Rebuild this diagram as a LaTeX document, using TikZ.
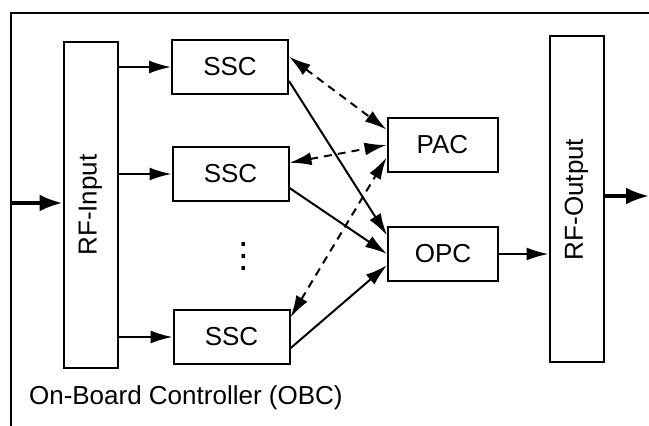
\documentclass[tikz,border=0pt]{standalone}
\usepackage{fontspec}
\setmainfont{Liberation Sans}
\usetikzlibrary{arrows.meta,calc}

\begin{document}
\begin{tikzpicture}
[x=0.5pt,y=-0.5pt,
  font=\fontsize{13}{15}\selectfont,
  boxDecorate/.style={draw,line width=1pt,minimum width=58pt,minimum height=27pt,inner sep=0pt},
  ctrlDecorate/.style={boxDecorate,minimum width=55pt},
  tallDecorate/.style={draw,line width=1pt,minimum width=27pt,minimum height=163pt,inner sep=0pt},
  lineDecorate/.style={-{Latex[length=11pt,width=6.5pt]},line width=1pt},
  dashDecorate/.style={{Latex[length=11pt,width=6.5pt]}-{Latex[length=11pt,width=6.5pt]},line width=1pt,dash pattern=on 4pt off 3pt},
  ioDecorate/.style={-{Latex[length=11.5pt,width=8.5pt]},line width=1.8pt}]
\useasboundingbox (0,0) rectangle (649,426);
%% frame of the controller
\draw[line width=0.8pt] (11,426) -- (11,13) -- (649,13);
\node[anchor=base west] (obc) at (22,405) {On-Board Controller (OBC)};
%% nodes
\node (rfin) at (90.5,205) [tallDecorate] {\rotatebox{90}{RF-Input}};
\node (rfout) at (576.5,199.5) [tallDecorate] {\rotatebox{90}{RF-Output}};
\foreach \nodename/\x/\y in {ssc1/230/67, ssc2/230.5/174, ssc3/231.5/337}
{
  \node (\nodename) at (\x,\y) [boxDecorate] {SSC};
}
\node (pac) at (442.5,145) [ctrlDecorate] {PAC};
\node (opc) at (443,254) [ctrlDecorate] {OPC};
\node (dots) at (244,256) [align=center,inner sep=0pt,font=\fontsize{19}{6}\selectfont] {.\\.\\.};
\coordinate (in) at (11,203);
\coordinate (out) at (649,196);
%% edges or lines
\draw[ioDecorate] (in) -- (rfin.west |- in);
\draw[ioDecorate] (rfout.east |- out) -- (out);
\path
\foreach \endnode in {ssc1, ssc2, ssc3}
{
  (rfin.east |- \endnode) edge[lineDecorate] (\endnode.west)
};
\draw[lineDecorate] ($(ssc1.east)!0.5!(ssc1.south east)$) -- ($(opc.north west)!0.33!(opc.west)$);
\draw[lineDecorate] ($(ssc2.east)!0.5!(ssc2.south east)$) -- (opc.west);
\draw[lineDecorate] ($(ssc3.east)!0.4!(ssc3.south east)$) -- ($(opc.west)!0.4!(opc.south west)$);
\draw[lineDecorate] (opc.east) -- (rfout.west |- opc.east);
\draw[dashDecorate] ($(ssc1.east)!0.37!(ssc1.north east)$) -- ($(pac.north west)!0.45!(pac.west)$);
\draw[dashDecorate] ($(ssc2.east)!0.4!(ssc2.north east)$) -- (pac.west);
\draw[dashDecorate] ($(ssc3.north east)!0.3!(ssc3.east)$) -- ($(pac.west)!0.45!(pac.south west)$);
\end{tikzpicture}
\end{document}
